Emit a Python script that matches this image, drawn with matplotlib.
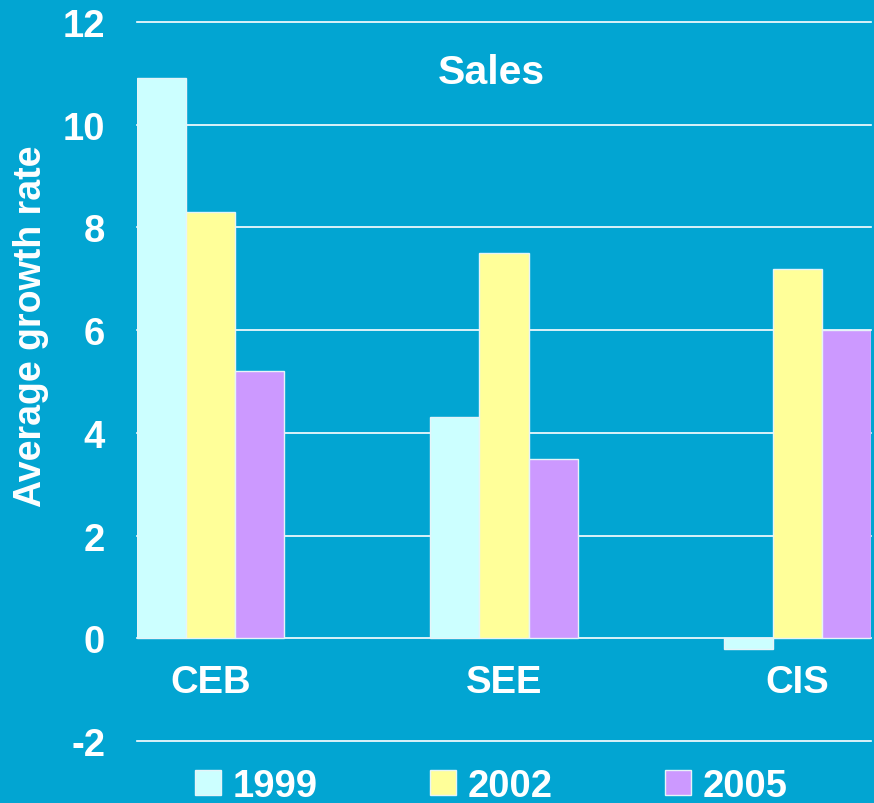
import numpy as np
import matplotlib
matplotlib.use('Agg')
import matplotlib.pyplot as plt
from matplotlib.patches import Rectangle

regions = ['CEB', 'SEE', 'CIS']
years = ['1999', '2002', '2005']
growth_1999 = [10.9, 4.3, -0.2]
growth_2002 = [8.3, 7.5, 7.2]
growth_2005 = [5.2, 3.5, 6.0]
yticks = [-2, 0, 2, 4, 6, 8, 10, 12]

bg = '#02a5d2'
colors = ['#ccffff', '#ffff99', '#cc99ff']

plt.rcParams['font.family'] = 'Liberation Sans'
plt.rcParams['font.weight'] = 'bold'

fig = plt.figure(figsize=(8.74, 8.04), dpi=100, facecolor=bg)
ax = fig.add_axes([137/874, 1 - 742/804, 734/874, 719/804])
ax.set_facecolor(bg)

x = np.arange(len(regions))
w = 0.167
series = [growth_1999, growth_2002, growth_2005]
for k, vals in enumerate(series):
    ax.bar(x + (k - 1) * w, vals, width=w, color=colors[k],
           edgecolor='#e6f4f8', linewidth=1, zorder=3)

ax.set_xlim(-0.25, 2.25)
ax.set_ylim(-2, 12)
ax.set_yticks(yticks)
ax.set_yticklabels([str(t) for t in yticks])
ax.set_xticks([])
ax.tick_params(axis='y', length=0, pad=23, labelsize=27.5, labelcolor='white')
ax.yaxis.grid(True, color='white', linewidth=1.2, zorder=0)
ax.set_axisbelow(True)
for line in ax.get_ygridlines():
    line.set_clip_on(False)
for s in ax.spines.values():
    s.set_visible(False)

for i, r in enumerate(regions):
    ax.text(i, -0.86, r, ha='center', va='center', fontsize=27.5, color='white')

fig.text(491/874, 1 - 73/804, 'Sales', ha='center', va='center',
         fontsize=29.5, color='white')
fig.text(31/874, 1 - 326/804, 'Average growth rate', rotation=90,
         ha='center', va='center', fontsize=27, color='white')

handles = [Rectangle((0, 0), 1, 1, facecolor=c, edgecolor='#e6f4f8', linewidth=1)
           for c in colors]
fig.legend(handles, years, loc='center left', bbox_to_anchor=(195/874, 1 - 787/804),
           ncol=3, frameon=False, fontsize=27.5, labelcolor='white',
           handlelength=0.68, handleheight=0.65, handletextpad=0.3,
           columnspacing=2.95, borderpad=0, borderaxespad=0)

fig.savefig('out.png', dpi=100, facecolor=bg)
